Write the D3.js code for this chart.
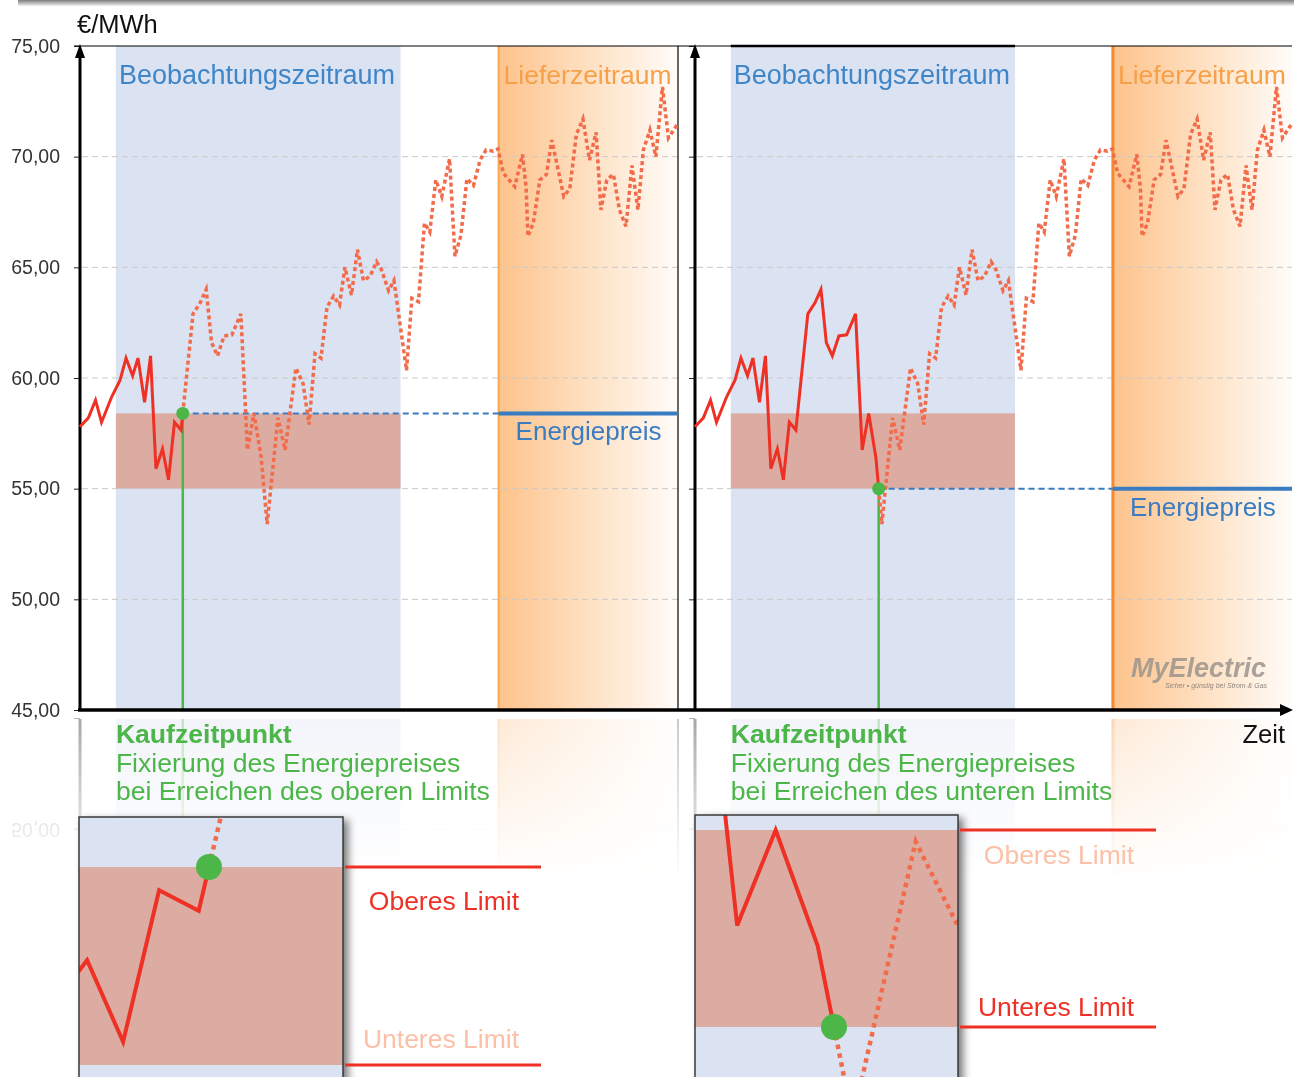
<!DOCTYPE html>
<html>
<head>
<meta charset="utf-8">
<script src="https://cdn.jsdelivr.net/npm/d3@7"></script>
<style>
  body { margin: 0; background: #fff; }
  svg { display: block; font-family: "Liberation Sans", Arial, sans-serif; }
</style>
</head>
<body>
<div id="container"></div>
<script>
// Preisverlauf: Tag im Betrachtungszeitraum (0..100) und Preis in €/MWh
const tage = [0, 1.4, 2.6, 3.6, 5.3, 6.7, 7.7, 8.8, 9.7, 10.8, 11.8, 12.7, 13.8, 14.8, 15.8, 16.9,
  18.9, 20.1, 21.1, 22.0, 23.0, 24.1, 25.4, 26.9, 28.0, 29.1, 30.3, 31.3, 33.1, 34.3, 36.1, 37.3,
  38.3, 39.3, 40.3, 41.3, 42.4, 43.4, 44.3, 45.4, 46.4, 47.4, 48.5, 49.6, 50.4, 51.6, 52.5, 54.6,
  55.5, 56.6, 57.6, 58.5, 59.5, 60.5, 61.8, 62.7, 63.7, 64.7, 65.8, 66.9, 67.9, 69.1, 69.9, 70.8,
  72.7, 74.0, 74.6, 74.9, 75.8, 76.9, 78.0, 78.9, 80.9, 81.9, 83.0, 84.1, 85.2, 86.3, 87.1, 88.1,
  89.2, 90.2, 91.3, 92.3, 93.3, 94.2, 95.3, 96.3, 97.4, 98.4, 100];
const preise = [57.8, 58.2, 59.0, 58.0, 59.15, 59.9, 60.9, 60.1, 60.9, 58.9, 61.0, 55.9, 56.8, 55.4, 58.0, 57.65,
  62.9, 63.4, 64.0, 61.6, 61.0, 61.9, 61.95, 62.9, 56.75, 58.4, 56.4, 53.4, 58.2, 56.75, 60.45, 59.75,
  57.9, 61.1, 60.9, 63.2, 63.7, 63.3, 65.0, 63.75, 65.8, 64.4, 64.6, 65.25, 64.9, 63.95, 64.4, 60.35,
  63.6, 63.45, 67.0, 66.6, 68.95, 68.2, 69.9, 65.5, 66.45, 69.0, 68.7, 69.85, 70.3, 70.25, 70.35, 69.25,
  68.65, 70.1, 68.6, 66.4, 67.0, 68.95, 69.2, 70.75, 68.2, 68.55, 71.0, 71.7, 69.85, 71.1, 67.6, 68.95,
  69.2, 67.6, 66.85, 69.6, 67.6, 70.3, 71.2, 70.0, 73.15, 70.85, 71.5];

const yTicks = [45, 50, 55, 60, 65, 70, 75];
const gridTicks = [50, 55, 60, 65, 70];
const beobachtung = [6.0, 53.6];
const lieferung = [70, 100];
const oberesLimit = 58.4;
const unteresLimit = 55.0;
const zeitraumLabels = ['Beobachtungszeitraum', 'Lieferzeitraum'];
const kaufTexte = [
  ['Kaufzeitpunkt', 'Fixierung des Energiepreises', 'bei Erreichen des oberen Limits'],
  ['Kaufzeitpunkt', 'Fixierung des Energiepreises', 'bei Erreichen des unteren Limits']
];
const limitLabels = ['Oberes Limit', 'Unteres Limit'];

const W = 1294, H = 1077;
const plotTop = 46, plotBottom = 710;
const C = {
  blue: '#dbe2f1', band: '#dcaca2', red: '#ee3124', dotted: '#f26b4a',
  green: '#4cb648', price: '#3a7cc2', orange: '#f7a04a', fade: '#fbc0a6'
};
const fmt = d3.formatLocale({ decimal: ',', thousands: '.', grouping: [3], currency: ['', '€'] }).format('.2f');

const y = d3.scaleLinear().domain([45, 75]).range([plotBottom, plotTop]);

const panels = [
  { x0: 80, x1: 678, limit: oberesLimit, dir: 1, edge: 2,
    inset: { x0: 79, x1: 343, y0: 817, bx: 209, kx: 36, yTop: 867, yBot: 1065, upOff: 43, loOff: -17 } },
  { x0: 695, x1: 1292, limit: unteresLimit, dir: -1, edge: 3,
    inset: { x0: 695, x1: 958, y0: 815, bx: 834, kx: 35, yTop: 830, yBot: 1027, upOff: 34, loOff: -11 } }
];

// erster Zeitpunkt im Beobachtungszeitraum, an dem der Preis das Limit erreicht
function kaufzeitpunkt(limit, dir, start) {
  for (let i = 1; i < tage.length; i++) {
    if (tage[i] <= start) continue;
    const a = preise[i - 1], b = preise[i];
    if ((dir > 0 && a < limit && b >= limit) || (dir < 0 && a > limit && b <= limit)) {
      const f = (limit - a) / (b - a);
      return { i, t: tage[i - 1] + f * (tage[i] - tage[i - 1]) };
    }
  }
}

const pts = tage.map((t, k) => [t, preise[k]]);

const svg = d3.select('#container').append('svg').attr('width', W).attr('height', H);
const defs = svg.append('defs');

const og = defs.append('linearGradient').attr('id', 'orangeGrad');
og.append('stop').attr('offset', 0).attr('stop-color', '#fdc38c');
og.append('stop').attr('offset', 0.5).attr('stop-color', '#fee0c2');
og.append('stop').attr('offset', 1).attr('stop-color', '#fffcf9');

const tg = defs.append('linearGradient').attr('id', 'topGrad').attr('x1', 0).attr('x2', 0).attr('y1', 0).attr('y2', 1);
tg.append('stop').attr('offset', 0).attr('stop-color', '#7d7d7d');
tg.append('stop').attr('offset', 1).attr('stop-color', '#f2f2f2');

const rg = defs.append('linearGradient').attr('id', 'reflGrad')
  .attr('gradientUnits', 'userSpaceOnUse').attr('x1', 0).attr('x2', 0).attr('y1', 717).attr('y2', 880);
rg.append('stop').attr('offset', 0).attr('stop-color', '#fff').attr('stop-opacity', 0.35);
rg.append('stop').attr('offset', 1).attr('stop-color', '#fff').attr('stop-opacity', 0);
defs.append('mask').attr('id', 'reflMask').attr('maskUnits', 'userSpaceOnUse')
  .attr('x', 0).attr('y', 0).attr('width', W).attr('height', H)
  .append('rect').attr('x', 0).attr('y', 717).attr('width', W).attr('height', H - 717).attr('fill', 'url(#reflGrad)');
defs.append('clipPath').attr('id', 'reflClip')
  .append('rect').attr('x', 0).attr('y', 717).attr('width', W).attr('height', H - 717);

const sh = defs.append('filter').attr('id', 'shadow').attr('x', '-10%').attr('y', '-10%').attr('width', '130%').attr('height', '130%');
sh.append('feDropShadow').attr('dx', 5).attr('dy', 3).attr('stdDeviation', 4)
  .attr('flood-color', '#000').attr('flood-opacity', 0.55);

// Balken oben
svg.append('rect').attr('x', 18).attr('y', 0).attr('width', W - 18).attr('height', 6)
  .attr('fill', 'url(#topGrad)');

// Hintergrund eines Panels (Zeiträume, Raster, Achse, Kauflinie)
function drawBackdrop(parent, p, k, kauf, spiegel) {
  const x = d3.scaleLinear().domain([0, 100]).range([p.x0, p.x1]);
  const g = parent.append('g');
  g.append('rect')
    .attr('x', x(beobachtung[0])).attr('y', plotTop)
    .attr('width', x(beobachtung[1]) - x(beobachtung[0])).attr('height', plotBottom - plotTop)
    .attr('fill', C.blue);
  g.append('rect')
    .attr('x', x(beobachtung[0])).attr('y', y(oberesLimit))
    .attr('width', x(beobachtung[1]) - x(beobachtung[0])).attr('height', y(unteresLimit) - y(oberesLimit))
    .attr('fill', C.band);
  g.append('rect')
    .attr('x', x(lieferung[0])).attr('y', plotTop)
    .attr('width', x(lieferung[1]) - x(lieferung[0])).attr('height', plotBottom - plotTop)
    .attr('fill', 'url(#orangeGrad)');
  g.selectAll('line.grid').data(gridTicks).enter().append('line')
    .attr('class', 'grid')
    .attr('x1', p.x0 + 2).attr('x2', p.x1)
    .attr('y1', d => y(d)).attr('y2', d => y(d))
    .attr('stroke', '#c9c9c9').attr('stroke-width', 1).attr('stroke-dasharray', '6 4');
  g.append('line')
    .attr('x1', x(lieferung[0])).attr('x2', x(lieferung[0]))
    .attr('y1', plotTop).attr('y2', plotBottom)
    .attr('stroke', k === 0 ? '#f8a852' : '#f58a2e').attr('stroke-width', p.edge);
  g.append('line')
    .attr('x1', x(kauf.t)).attr('x2', x(kauf.t))
    .attr('y1', y(p.limit)).attr('y2', plotBottom)
    .attr('stroke', C.green).attr('stroke-width', 2.5);

  const ax = g.append('g').attr('transform', `translate(${p.x0},0)`)
    .call(d3.axisLeft(y).tickValues(yTicks).tickSize(6).tickPadding(14)
      .tickFormat(k === 0 ? fmt : ''));
  ax.select('.domain').remove();
  ax.selectAll('.tick line').attr('stroke', '#222');
  ax.selectAll('.tick text').attr('font-size', 19.5).attr('fill', '#333')
    .attr('font-family', '"Liberation Sans", Arial, sans-serif');
  // in der Spiegelung ist nur die 50er-Beschriftung sichtbar
  if (spiegel) ax.selectAll('.tick').filter(d => d !== 50).select('text').remove();

  g.append('line')
    .attr('x1', p.x0).attr('x2', p.x0).attr('y1', plotBottom).attr('y2', plotTop + 10)
    .attr('stroke', '#000').attr('stroke-width', 3);
  g.append('path')
    .attr('d', `M${p.x0 - 5},${plotTop + 12} L${p.x0},${plotTop - 2} L${p.x0 + 5},${plotTop + 12} Z`)
    .attr('fill', '#000');
  if (k === 0) {
    g.append('line').attr('x1', p.x1).attr('x2', p.x1).attr('y1', plotTop).attr('y2', plotBottom)
      .attr('stroke', '#000').attr('stroke-width', 1.2);
  }
  return x;
}

const kaufe = panels.map(p => kaufzeitpunkt(p.limit, p.dir, beobachtung[0]));

// Spiegelung unterhalb der Zeitachse (zuerst, damit Texte darüber liegen)
const refl = svg.append('g').attr('clip-path', 'url(#reflClip)')
  .append('g').attr('mask', 'url(#reflMask)')
  .append('g').attr('transform', 'translate(0,1429) scale(1,-1)');
panels.forEach((p, k) => drawBackdrop(refl, p, k, kaufe[k], true));

const main = svg.append('g');
const scales = panels.map((p, k) => drawBackdrop(main, p, k, kaufe[k], false));

// Obere Kante
svg.append('line').attr('x1', 74).attr('x2', 1292).attr('y1', plotTop).attr('y2', plotTop)
  .attr('stroke', '#000').attr('stroke-width', 1.2);
svg.append('line')
  .attr('x1', scales[1](beobachtung[0])).attr('x2', scales[1](beobachtung[1]))
  .attr('y1', plotTop).attr('y2', plotTop).attr('stroke', '#000').attr('stroke-width', 2.5);

panels.forEach((p, k) => {
  const x = scales[k];
  const kauf = kaufe[k];
  const kp = [kauf.t, p.limit];
  const line = d3.line().x(d => x(d[0])).y(d => y(d[1]));
  const vorher = pts.slice(0, kauf.i).concat([kp]);
  const nachher = [kp].concat(pts.slice(kauf.i));

  // Energiepreis
  main.append('line')
    .attr('x1', x(kauf.t)).attr('x2', x(lieferung[0]))
    .attr('y1', y(p.limit)).attr('y2', y(p.limit))
    .attr('stroke', C.price).attr('stroke-width', 2).attr('stroke-dasharray', '6 4');
  main.append('line')
    .attr('x1', x(lieferung[0])).attr('x2', x(lieferung[1]))
    .attr('y1', y(p.limit)).attr('y2', y(p.limit))
    .attr('stroke', C.price).attr('stroke-width', 4);

  main.append('path').datum(nachher).attr('d', line)
    .attr('fill', 'none').attr('stroke', C.dotted).attr('stroke-width', 3.5)
    .attr('stroke-dasharray', '4 3');
  main.append('path').datum(vorher).attr('d', line)
    .attr('fill', 'none').attr('stroke', C.red).attr('stroke-width', 3);
  main.append('circle').attr('cx', x(kauf.t)).attr('cy', y(p.limit)).attr('r', 6.5)
    .attr('fill', C.green);

  main.append('text').attr('x', x(beobachtung[0]) + 3).attr('y', 84)
    .attr('font-size', 27).attr('fill', '#3f86c9').text(zeitraumLabels[0]);
  main.append('text').attr('x', x(lieferung[0]) + 5).attr('y', 84)
    .attr('font-size', 26.5).attr('fill', C.orange).text(zeitraumLabels[1]);
  main.append('text').attr('x', x(lieferung[0]) + 17).attr('y', y(p.limit) + 27)
    .attr('font-size', 26).attr('fill', C.price).text('Energiepreis');

  // Kaufzeitpunkt-Text
  const kt = main.append('text').attr('x', x(beobachtung[0])).attr('fill', C.green).attr('font-size', 26.6);
  kaufTexte[k].forEach((s, j) => {
    kt.append('tspan').attr('x', x(beobachtung[0])).attr('y', [743, 772, 800][j])
      .attr('font-weight', j === 0 ? 'bold' : 'normal').text(s);
  });

  // Lupe
  const q = p.inset;
  const ix = d3.scaleLinear()
    .domain([kauf.t - (q.bx - q.x0) / q.kx, kauf.t + (q.x1 - q.bx) / q.kx])
    .range([q.x0, q.x1]);
  const iy = d3.scaleLinear().domain([unteresLimit, oberesLimit]).range([q.yBot, q.yTop]);
  const iline = d3.line().x(d => ix(d[0])).y(d => iy(d[1]));
  const clipId = 'inset' + k;
  defs.append('clipPath').attr('id', clipId)
    .append('rect').attr('x', q.x0).attr('y', q.y0).attr('width', q.x1 - q.x0).attr('height', H - q.y0 + 10);
  const ig = svg.append('g');
  ig.append('rect').attr('x', q.x0).attr('y', q.y0).attr('width', q.x1 - q.x0).attr('height', H - q.y0 + 20)
    .attr('fill', C.blue).attr('filter', 'url(#shadow)');
  const ic = ig.append('g').attr('clip-path', `url(#${clipId})`);
  ic.append('rect').attr('x', q.x0).attr('y', iy(oberesLimit))
    .attr('width', q.x1 - q.x0).attr('height', iy(unteresLimit) - iy(oberesLimit)).attr('fill', C.band);
  ic.append('path').datum(nachher).attr('d', iline)
    .attr('fill', 'none').attr('stroke', C.dotted).attr('stroke-width', 4.5).attr('stroke-dasharray', '4.5 4.5');
  ic.append('path').datum(vorher).attr('d', iline)
    .attr('fill', 'none').attr('stroke', C.red).attr('stroke-width', 4);
  ic.append('circle').attr('cx', ix(kauf.t)).attr('cy', iy(p.limit)).attr('r', 13).attr('fill', C.green);
  ig.append('rect').attr('x', q.x0).attr('y', q.y0).attr('width', q.x1 - q.x0).attr('height', H - q.y0 + 20)
    .attr('fill', 'none').attr('stroke', '#3a3a3a').attr('stroke-width', 1.5);

  [oberesLimit, unteresLimit].forEach((v, j) => {
    ig.append('line').attr('x1', q.x1 + 2).attr('x2', q.x1 + 198)
      .attr('y1', iy(v)).attr('y2', iy(v)).attr('stroke', C.red).attr('stroke-width', 3);
    const aktiv = (j === 0) === (p.dir > 0);
    ig.append('text').attr('x', q.x1 + 176).attr('y', iy(v) + (j === 0 ? q.upOff : q.loOff))
      .attr('text-anchor', 'end').attr('font-size', 26.5)
      .attr('fill', aktiv ? C.red : C.fade).text(limitLabels[j]);
  });
});

// Zeitachse
svg.append('line').attr('x1', 78).attr('x2', 1282).attr('y1', plotBottom).attr('y2', plotBottom)
  .attr('stroke', '#000').attr('stroke-width', 3.5);
svg.append('path').attr('d', `M1280,${plotBottom - 6} L1293,${plotBottom} L1280,${plotBottom + 6} Z`).attr('fill', '#000');

svg.append('text').attr('x', 77).attr('y', 33).attr('font-size', 25.5).attr('fill', '#111').text('€/MWh');
svg.append('text').attr('x', 1285).attr('y', 743).attr('text-anchor', 'end')
  .attr('font-size', 25.5).attr('fill', '#111').text('Zeit');

// Logo
svg.append('text').attr('x', 1131).attr('y', 677).attr('font-size', 27).attr('font-weight', 'bold')
  .attr('font-style', 'italic').attr('fill', '#9c948d').attr('opacity', 0.85).text('MyElectric');
svg.append('text').attr('x', 1165).attr('y', 688).attr('font-size', 7).attr('font-style', 'italic')
  .attr('fill', '#8f8780').text('Sicher • günstig bei Strom & Gas');
</script>
</body>
</html>
